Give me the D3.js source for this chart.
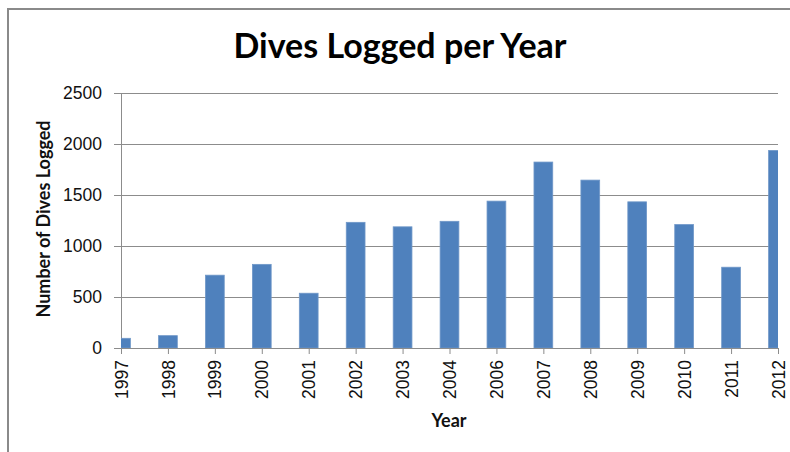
<!DOCTYPE html>
<html>
<head>
<meta charset="utf-8">
<script src="https://cdn.jsdelivr.net/npm/d3@7"></script>
<style>
  body { margin: 0; background: #fff; }
  svg { display: block; font-family: Lato, "Liberation Sans", sans-serif; }
</style>
</head>
<body>
<div id="chart"></div>
<script>
// data
const years = ["1997", "1998", "1999", "2000", "2001", "2002", "2003", "2004",
               "2006", "2007", "2008", "2009", "2010", "2011", "2012"];
const dives = [95, 121, 714, 820, 537, 1232, 1188, 1242, 1440, 1823, 1646, 1433, 1210, 792, 1937];
const yTicks = [0, 500, 1000, 1500, 2000, 2500];

const width = 790;
const height = 452;
const margin = {top: 93, right: 12, bottom: 104, left: 121};

const svg = d3.select("#chart")
    .append("svg")
    .attr("width", width)
    .attr("height", height);

// chart frame (cut off on right and bottom)
svg.append("rect")
    .attr("x", 8).attr("y", 9)
    .attr("width", 900).attr("height", 600)
    .attr("fill", "none")
    .attr("stroke", "#8a8a8a")
    .attr("stroke-width", 2);

// x: bars sit on the tick marks, end bars half cut
const x = d3.scalePoint()
    .domain(years)
    .range([margin.left, width - margin.right]);

const y = d3.scaleLinear()
    .domain([0, 2500])
    .range([height - margin.bottom, margin.top]);

const barW = x.step() / 2.5;

// gridlines + y axis
const yAxis = svg.append("g")
    .attr("transform", `translate(${margin.left},0)`)
    .call(d3.axisLeft(y).tickValues(yTicks).tickFormat(d3.format("d")).tickSize(7).tickPadding(12));
yAxis.select(".domain").attr("stroke", "#8c8c8c");
yAxis.selectAll(".tick line").attr("stroke", "#8c8c8c");
yAxis.selectAll(".tick text")
    .attr("font-size", 17.5)
    .attr("fill", "#111");
yAxis.selectAll(".tick")
    .append("line")
    .attr("x1", 0)
    .attr("x2", width - margin.right - margin.left)
    .attr("stroke", d => d === 0 ? "none" : "#8c8c8c");

// clip to plot area
svg.append("clipPath").attr("id", "plot")
    .append("rect")
    .attr("x", margin.left).attr("y", 0)
    .attr("width", width - margin.right - margin.left)
    .attr("height", height);

svg.append("g")
    .attr("clip-path", "url(#plot)")
    .selectAll("rect")
    .data(dives)
    .join("rect")
    .attr("x", (d, i) => x(years[i]) - barW / 2)
    .attr("y", d => y(d))
    .attr("width", barW)
    .attr("height", d => y(0) - y(d))
    .attr("fill", "#4f81bd")
    .attr("stroke", "#6f97c8")
    .attr("stroke-width", 0.8);

// x axis
const xAxis = svg.append("g")
    .attr("transform", `translate(0,${height - margin.bottom})`)
    .call(d3.axisBottom(x).tickSize(6).tickSizeOuter(0));
xAxis.select(".domain").attr("stroke", "#8c8c8c");
xAxis.selectAll(".tick line").attr("stroke", "#8c8c8c");
xAxis.selectAll(".tick text")
    .attr("font-size", 17.5)
    .attr("fill", "#111")
    .attr("transform", "rotate(-90)")
    .attr("text-anchor", "end")
    .attr("x", -12)
    .attr("y", 0)
    .attr("dy", "0.35em");

// titles
svg.append("text")
    .attr("x", 400).attr("y", 58)
    .attr("text-anchor", "middle")
    .attr("font-size", 34)
    .attr("font-weight", "bold")
    .text("Dives Logged per Year");

svg.append("text")
    .attr("x", 449).attr("y", 427)
    .attr("text-anchor", "middle")
    .attr("font-size", 18)
    .attr("font-weight", "bold")
    .attr("fill", "#111")
    .text("Year");

svg.append("text")
    .attr("transform", "translate(50,219) rotate(-90)")
    .attr("text-anchor", "middle")
    .attr("font-size", 18)
    .attr("font-weight", "bold")
    .attr("fill", "#111")
    .text("Number of Dives Logged");
</script>
</body>
</html>
